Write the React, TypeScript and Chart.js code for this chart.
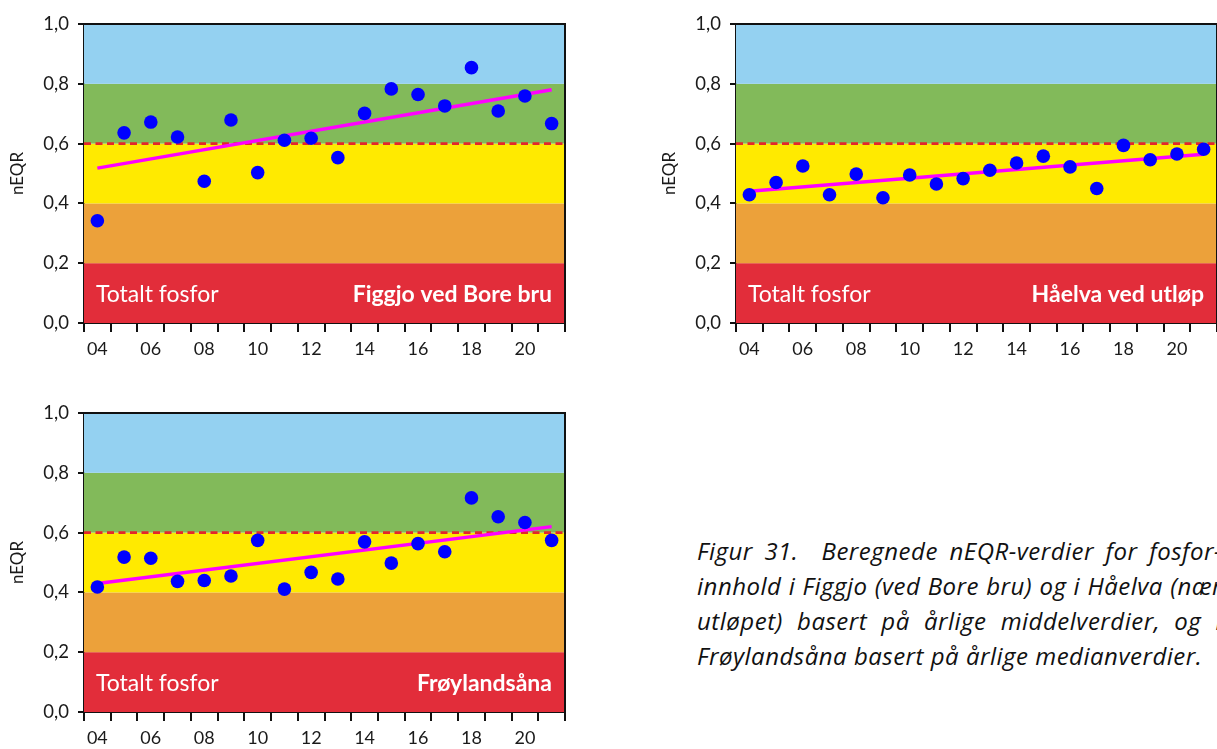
import React, { useEffect, useRef } from "react";
import { Chart, registerables } from "chart.js";

Chart.register(...registerables);

const years = ["04", "05", "06", "07", "08", "09", "10", "11", "12", "13", "14", "15", "16", "17", "18", "19", "20", "21"];

const figgjoValues = [0.342, 0.636, 0.672, 0.622, 0.474, 0.679, 0.503, 0.611, 0.618, 0.553, 0.701, 0.783, 0.764, 0.726, 0.854, 0.709, 0.759, 0.667];
const haelvaValues = [0.429, 0.470, 0.525, 0.429, 0.498, 0.419, 0.495, 0.465, 0.483, 0.511, 0.535, 0.558, 0.522, 0.450, 0.594, 0.546, 0.565, 0.581];
const froylandValues = [0.418, 0.518, 0.514, 0.437, 0.440, 0.455, 0.574, 0.411, 0.467, 0.445, 0.569, 0.498, 0.563, 0.536, 0.716, 0.653, 0.634, 0.574];

const figgjoTrend = [0.518, 0.780];
const haelvaTrend = [0.441, 0.564];
const froylandTrend = [0.430, 0.620];

const bandLimits = [0, 0.2, 0.4, 0.6, 0.8, 1.0];
const bandColors = ["#E22D3A", "#ECA13A", "#FFEA00", "#82BA5A", "#94D1F1"];
const goodModerateLimit = 0.6;
const yTicks = [0, 0.2, 0.4, 0.6, 0.8, 1.0];

const leftLabel = "Totalt fosfor";
const stationNames = ["Figgjo ved Bore bru", "Håelva ved utløp", "Frøylandsåna"];

const captionLines = [
  "Figur 31.  Beregnede nEQR-verdier for fosfor-",
  "innhold i Figgjo (ved Bore bru) og i Håelva (nær",
  "utløpet) basert på årlige middelverdier, og i",
  "Frøylandsåna basert på årlige medianverdier.",
];

const FONT = "Lato, 'Liberation Sans', sans-serif";
const CAPTION_FONT = "'Open Sans', 'Noto Sans', sans-serif";
const TEXT = "#1a1a1a";

function makeBandsPlugin(station: string) {
  return {
    id: "bands",
    beforeDatasetsDraw(chart: any) {
      const { ctx, chartArea } = chart;
      const y = chart.scales.y;
      ctx.save();
      for (let i = 0; i < bandColors.length; i++) {
        const top = y.getPixelForValue(bandLimits[i + 1]);
        const bot = y.getPixelForValue(bandLimits[i]);
        ctx.fillStyle = bandColors[i];
        ctx.fillRect(chartArea.left, top, chartArea.right - chartArea.left, bot - top);
      }
      const yl = y.getPixelForValue(goodModerateLimit);
      ctx.strokeStyle = "#E3262B";
      ctx.lineWidth = 2.6;
      ctx.setLineDash([7, 4.5]);
      ctx.beginPath();
      ctx.moveTo(chartArea.left, yl);
      ctx.lineTo(chartArea.right, yl);
      ctx.stroke();
      ctx.setLineDash([]);
      ctx.strokeStyle = "#111";
      ctx.lineWidth = 2;
      ctx.beginPath();
      ctx.moveTo(chartArea.left, chartArea.top);
      ctx.lineTo(chartArea.right, chartArea.top);
      ctx.lineTo(chartArea.right, chartArea.bottom);
      ctx.stroke();
      const ty = y.getPixelForValue((bandLimits[0] + bandLimits[1]) / 2);
      ctx.fillStyle = "#ffffff";
      ctx.textBaseline = "middle";
      ctx.font = "23px " + FONT;
      ctx.textAlign = "left";
      ctx.fillText(leftLabel, chartArea.left + 12, ty + 1);
      ctx.font = "bold 23px " + FONT;
      ctx.textAlign = "right";
      ctx.fillText(station, chartArea.right - 13, ty + 1);
      ctx.restore();
    },
  };
}

function Panel(props: { values: number[]; trend: number[]; station: string; left: number; top: number }) {
  const ref = useRef<HTMLCanvasElement>(null);
  useEffect(() => {
    if (!ref.current) return;
    const chart = new Chart(ref.current, {
      type: "line",
      data: {
        labels: years,
        datasets: [
          {
            label: "nEQR",
            data: props.values,
            showLine: false,
            pointRadius: 6.8,
            pointBackgroundColor: "#0000FF",
            pointBorderWidth: 0,
            borderColor: "#0000FF",
          },
          {
            label: "trend",
            data: [
              { x: years[0], y: props.trend[0] },
              { x: years[years.length - 1], y: props.trend[1] },
            ],
            borderColor: "#FF00FF",
            borderWidth: 3.5,
            pointRadius: 0,
          },
        ],
      },
      options: {
        responsive: false,
        animation: false,
        events: [],
        layout: { padding: { top: 24, right: 15, left: 0, bottom: 0 } },
        plugins: { legend: { display: false }, tooltip: { enabled: false } },
        scales: {
          x: {
            type: "category",
            offset: true,
            grid: { offset: true, drawOnChartArea: false, drawTicks: true, tickLength: 9, color: "#111", lineWidth: 2 },
            border: { color: "#111", width: 2 },
            ticks: {
              autoSkip: false,
              maxRotation: 0,
              padding: 6,
              color: TEXT,
              font: { size: 18, family: FONT },
              callback: (_v: any, i: number) => (i % 2 === 0 ? years[i] : ""),
            },
            afterFit: (s: any) => {
              s.height = 372 - 323;
            },
          },
          y: {
            min: 0,
            max: 1,
            afterBuildTicks: (s: any) => {
              s.ticks = yTicks.map((v) => ({ value: v }));
            },
            grid: { drawOnChartArea: false, drawTicks: true, tickLength: 6, color: "#111", lineWidth: 2 },
            border: { color: "#111", width: 2 },
            ticks: {
              padding: 9,
              color: TEXT,
              font: { size: 18.5, family: FONT },
              callback: (v: any) => Number(v).toFixed(1).replace(".", ","),
            },
            title: {
              display: true,
              text: "nEQR",
              color: TEXT,
              font: { size: 17, family: FONT },
              padding: { top: 7, bottom: 0 },
            },
            afterFit: (s: any) => {
              s.width = 84;
            },
          },
        },
      },
      plugins: [makeBandsPlugin(props.station)],
    } as any);
    return () => chart.destroy();
  }, []);
  return (
    <canvas
      ref={ref}
      width={580}
      height={372}
      style={{ position: "absolute", left: props.left, top: props.top, width: 580, height: 372 }}
    />
  );
}

export default function App() {
  return (
    <div
      style={{
        position: "absolute",
        left: 0,
        top: 0,
        width: 1217,
        height: 749,
        overflow: "hidden",
        background: "#fff",
      }}
    >
      <Panel values={figgjoValues} trend={figgjoTrend} station={stationNames[0]} left={0} top={0} />
      <Panel values={haelvaValues} trend={haelvaTrend} station={stationNames[1]} left={652} top={0} />
      <Panel values={froylandValues} trend={froylandTrend} station={stationNames[2]} left={0} top={389} />
      <div
        style={{
          position: "absolute",
          left: 697,
          top: 533,
          width: 525,
          fontFamily: CAPTION_FONT,
          fontStyle: "italic",
          fontSize: 24,
          letterSpacing: "0.5px",
          lineHeight: "35px",
          color: "#111",
        }}
      >
        {captionLines.map((l, i) => (
          <div
            key={i}
            style={{
              whiteSpace: "pre",
              textAlign: "justify",
              textAlignLast: i < captionLines.length - 1 ? "justify" : "left",
            } as any}
          >
            {l}
          </div>
        ))}
      </div>
    </div>
  );
}
